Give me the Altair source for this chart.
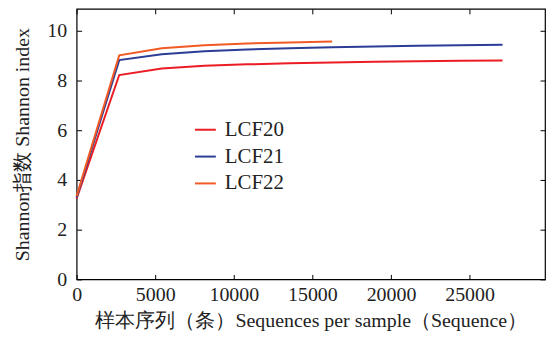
import altair as alt
import pandas as pd

steps = [0, 2710, 5420, 8130, 10840, 13550, 16260, 18970, 21680, 24390, 27100]
lcf20 = [3.25, 8.22, 8.48, 8.59, 8.65, 8.69, 8.72, 8.75, 8.77, 8.79, 8.80]
lcf21 = [3.30, 8.82, 9.06, 9.18, 9.25, 9.30, 9.34, 9.37, 9.40, 9.42, 9.44]
lcf22 = [3.35, 9.01, 9.30, 9.42, 9.49, 9.53, 9.57]

series_names = ["LCF20", "LCF21", "LCF22"]
series_colors = ["#ec1c24", "#2c3d96", "#f15a24"]
x_ticks = [0, 5000, 10000, 15000, 20000, 25000]
y_ticks = [0, 2, 4, 6, 8, 10]

rows = []
for name, vals in zip(series_names, [lcf20, lcf21, lcf22]):
    for x, y in zip(steps, vals):
        rows.append({"series": name, "x": x, "y": y})
df = pd.DataFrame(rows)

FONT = "Nimbus Roman, Tinos, FreeSerif, Times, DejaVu Serif"
xscale = alt.Scale(domain=[0, 29800], nice=False, zero=False)
yscale = alt.Scale(domain=[0, 10.88], nice=False, zero=False)

main = alt.Chart(df).mark_line(strokeWidth=2).encode(
    x=alt.X("x:Q", scale=xscale, axis=alt.Axis(
        values=x_ticks, format="d", ticks=False, tickSize=0, domain=False, grid=False,
        labelFont=FONT, labelFontSize=20, labelColor="#222", labelPadding=5,
        labelFlush=False,
        title="样本序列（条）Sequences per sample（Sequence）",
        titleFont=FONT, titleFontSize=20, titleFontWeight="normal",
        titleColor="#222", titlePadding=6)),
    y=alt.Y("y:Q", scale=yscale, axis=alt.Axis(
        values=y_ticks, ticks=False, tickSize=0, domain=False, grid=False,
        labelFont=FONT, labelFontSize=20, labelColor="#222", labelPadding=10,
        labelFlush=False,
        title="Shannon指数 Shannon index",
        titleFont=FONT, titleFontSize=20, titleFontWeight="normal",
        titleColor="#222", titlePadding=14)),
    color=alt.Color("series:N", scale=alt.Scale(domain=series_names, range=series_colors),
                    legend=alt.Legend(orient="none", legendX=118, legendY=110, title=None,
                                      symbolType="stroke", symbolSize=441, symbolStrokeWidth=2,
                                      labelFont=FONT, labelFontSize=21, labelColor="#222",
                                      labelOffset=8, rowPadding=5, padding=0)),
    detail="series:N",
)


def tick_axis(orient, vals):
    return alt.Axis(orient=orient, labels=False, domain=False, grid=False, ticks=True,
                    tickSize=5, tickColor="black", tickWidth=1, offset=-5, title=None,
                    values=vals)


ticks_bl = alt.Chart(df).mark_line(opacity=0).encode(
    x=alt.X("x:Q", scale=xscale, axis=tick_axis("bottom", x_ticks)),
    y=alt.Y("y:Q", scale=yscale, axis=tick_axis("left", y_ticks)),
    detail="series:N",
)
ticks_tr = alt.Chart(df).mark_line(opacity=0).encode(
    x=alt.X("x:Q", scale=xscale, axis=tick_axis("top", x_ticks)),
    y=alt.Y("y:Q", scale=yscale, axis=tick_axis("right", y_ticks)),
    detail="series:N",
)

chart = alt.layer(main, ticks_bl, ticks_tr).resolve_axis(
    x="independent", y="independent"
).properties(
    width=471, height=272,
    padding={"left": 69, "top": 0, "right": 2, "bottom": 54},
    autosize=alt.AutoSizeParams(type="none"),
    background="white",
).configure_view(stroke="black", strokeWidth=1.2)

chart.save("out.html", embed_options={"renderer": "svg", "actions": False})
